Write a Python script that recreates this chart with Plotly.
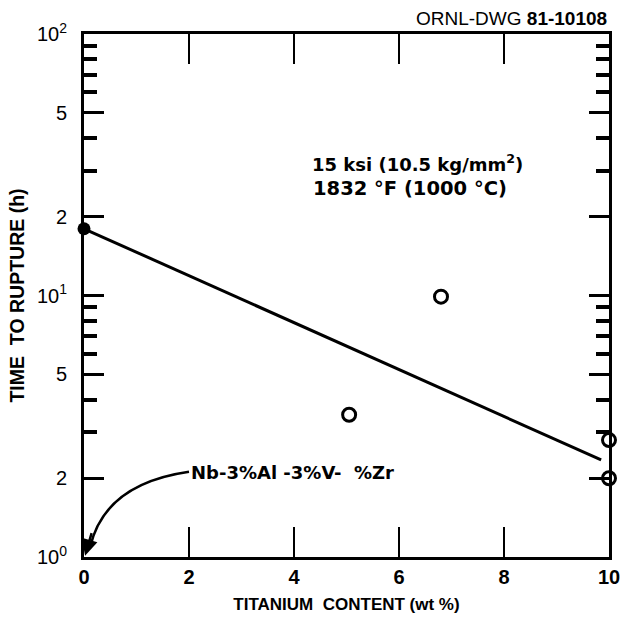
import plotly.graph_objects as go

# Data
fit_ti = [0.0, 9.85]          # wt % Ti
fit_time = [18.0, 2.35]       # h
base_ti = [0.0]
base_time = [18.0]
alloy_ti = [6.8, 5.05, 10.0, 10.0]
alloy_time = [9.9, 3.5, 2.8, 2.0]

x_ticks = [0, 2, 4, 6, 8, 10]
x_ticktext = ["0", "2", "4", "6", "8", "10"]
y_ticks = [1, 2, 5, 10, 20, 50, 100]
y_ticktext = ["10<sup>0</sup>", "2", "5", "10<sup>1</sup>", "2", "5", "10<sup>2</sup>"]
y_minor = [3, 4, 6, 7, 8, 9, 30, 40, 60, 70, 80, 90]

FONT = "Liberation Sans, Arial, sans-serif"
NARROW = "Liberation Sans Narrow, Liberation Sans, Arial"
WIDE = "DejaVu Sans, Verdana, sans-serif"
INK = "#000000"

fig = go.Figure()
fig.add_trace(go.Scatter(x=fit_ti, y=fit_time, mode="lines",
                         line=dict(color=INK, width=3), showlegend=False,
                         hoverinfo="skip"))
fig.add_trace(go.Scatter(x=base_ti, y=base_time, mode="markers",
                         marker=dict(symbol="circle", size=13, color=INK),
                         cliponaxis=False, showlegend=False))
fig.add_trace(go.Scatter(x=alloy_ti, y=alloy_time, mode="markers",
                         marker=dict(symbol="circle-open", size=13, color=INK,
                                     line=dict(color=INK, width=3)),
                         cliponaxis=False, showlegend=False))

fig.update_layout(
    width=622, height=618,
    margin=dict(l=84, r=13, t=34, b=61),
    plot_bgcolor="white", paper_bgcolor="white",
    font=dict(family=FONT, color=INK),
    xaxis=dict(
        range=[0, 10], tickvals=x_ticks, ticktext=x_ticktext,
        ticks="inside", ticklen=30, tickwidth=2, tickcolor=INK,
        showline=True, linewidth=3, linecolor=INK, mirror="ticks",
        showgrid=False, zeroline=False, automargin=False,
        tickfont=dict(size=20, family=FONT, color=INK, weight="bold"),
        title=dict(text="<b>TITANIUM  CONTENT (wt %)</b>",
                   font=dict(size=17, family=NARROW),
                   standoff=12),
    ),
    yaxis=dict(
        type="log", range=[0, 2], tickvals=y_ticks, ticktext=y_ticktext,
        ticks="inside", ticklen=20, tickwidth=2.5, tickcolor=INK,
        minor=dict(tickvals=y_minor, ticks="inside", ticklen=13,
                   tickwidth=3.5, tickcolor=INK),
        showline=True, linewidth=3, linecolor=INK, mirror="ticks",
        showgrid=False, zeroline=False, automargin=False,
        ticklabelstandoff=10,
        tickfont=dict(size=20, family=FONT, color=INK),
        title=dict(text="<b>TIME  TO RUPTURE (h)</b>",
                   font=dict(size=19.5, family=NARROW),
                   standoff=8),
    ),
)

# Labels
fig.add_annotation(xref="paper", yref="paper", x=1.0, y=1.0, yshift=16,
                   xanchor="right", yanchor="middle", showarrow=False,
                   text="ORNL-DWG <b>81-10108</b>",
                   font=dict(size=19, family=FONT, color=INK))
fig.add_annotation(xref="x", yref="paper", x=4.3, y=0.754,
                   xanchor="left", yanchor="middle", showarrow=False,
                   text="<b>15 ksi (10.5 kg/mm<sup>2</sup>)</b>",
                   font=dict(size=18, family=WIDE, color=INK))
fig.add_annotation(xref="x", yref="paper", x=4.33, y=0.704,
                   xanchor="left", yanchor="middle", showarrow=False,
                   text="<b>1832 °F (1000 °C)</b>",
                   font=dict(size=19.5, family=WIDE, color=INK))
fig.add_annotation(xref="x", yref="paper", x=2.0, y=0.161,
                   xanchor="left", yanchor="middle", showarrow=False,
                   text="<b>Nb-3%Al -3%V-  %Zr</b>",
                   font=dict(size=18, family=WIDE, color=INK))

# Curved leader to the origin
fig.add_shape(type="path", xref="paper", yref="paper",
              path="M 0.2,0.163 Q 0.04,0.14 0.012,0.02",
              line=dict(color=INK, width=2.5))
fig.add_annotation(xref="x", yref="y", x=0.02, y=0.005, ax=7, ay=-24,
                   text="", showarrow=True, arrowhead=2, arrowsize=1.3,
                   arrowwidth=2.5, arrowcolor=INK)

fig.write_html("out.html", config={"displayModeBar": False},
               post_script="document.body.style.margin='0px';")
